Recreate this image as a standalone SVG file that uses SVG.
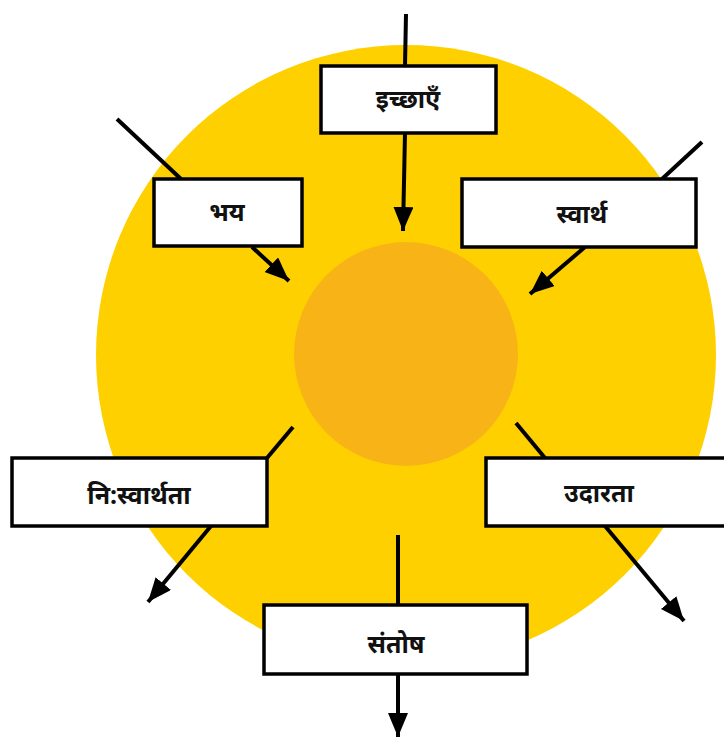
<svg xmlns="http://www.w3.org/2000/svg" width="724" height="737" viewBox="0 0 724 737">
<style>
.box rect{fill:#fff;stroke:#000;stroke-width:3.5}
.box text{font-family:"Noto Sans","Noto Sans Devanagari","Liberation Serif",serif;font-weight:bold;font-size:25px;fill:#111;text-anchor:middle}
.conn line{stroke:#000;stroke-width:4}
</style>
<defs>
<marker id="ah" markerUnits="userSpaceOnUse" markerWidth="26" markerHeight="22" refX="24" refY="10" orient="auto">
<path d="M0,0 L24,10 L0,20 Z" fill="#000"/>
</marker>
</defs>
<rect width="724" height="737" fill="#fff"/>
<circle cx="406" cy="355" r="310" fill="#FFD000"/>
<circle cx="406" cy="354" r="112" fill="#F8B417"/>
<g class="conn">
<line x1="406" y1="14" x2="405" y2="66"/>
<line x1="405" y1="133" x2="403" y2="231" marker-end="url(#ah)"/>
<line x1="117" y1="119" x2="181" y2="179"/>
<line x1="252" y1="247" x2="289" y2="281" marker-end="url(#ah)"/>
<line x1="702" y1="142" x2="662" y2="179"/>
<line x1="585" y1="247" x2="530" y2="294" marker-end="url(#ah)"/>
<line x1="293" y1="427" x2="267" y2="458"/>
<line x1="211" y1="526" x2="148" y2="602" marker-end="url(#ah)"/>
<line x1="516" y1="423" x2="545" y2="458"/>
<line x1="605" y1="526" x2="684" y2="621" marker-end="url(#ah)"/>
<line x1="398" y1="535" x2="398" y2="605"/>
<line x1="398" y1="674" x2="398" y2="737" marker-end="url(#ah)"/>
</g>
<g id="n-ichchhayen" class="box"><rect x="321" y="66" width="175" height="67"/><text x="408" y="108">इच्छाएँ</text></g>
<g id="n-bhay" class="box"><rect x="154" y="179" width="148" height="67"/><text x="227" y="221">भय</text></g>
<g id="n-swarth" class="box"><rect x="462" y="179" width="234" height="68"/><text x="582" y="223">स्वार्थ</text></g>
<g id="n-nihswarthata" class="box"><rect x="12" y="458" width="255" height="68"/><text x="139" y="504">नि:स्वार्थता</text></g>
<g id="n-udarata" class="box"><rect x="486" y="458" width="250" height="68"/><text x="599" y="502">उदारता</text></g>
<g id="n-santosh" class="box"><rect x="264" y="605" width="263" height="69"/><text x="396" y="653">संतोष</text></g>
</svg>
